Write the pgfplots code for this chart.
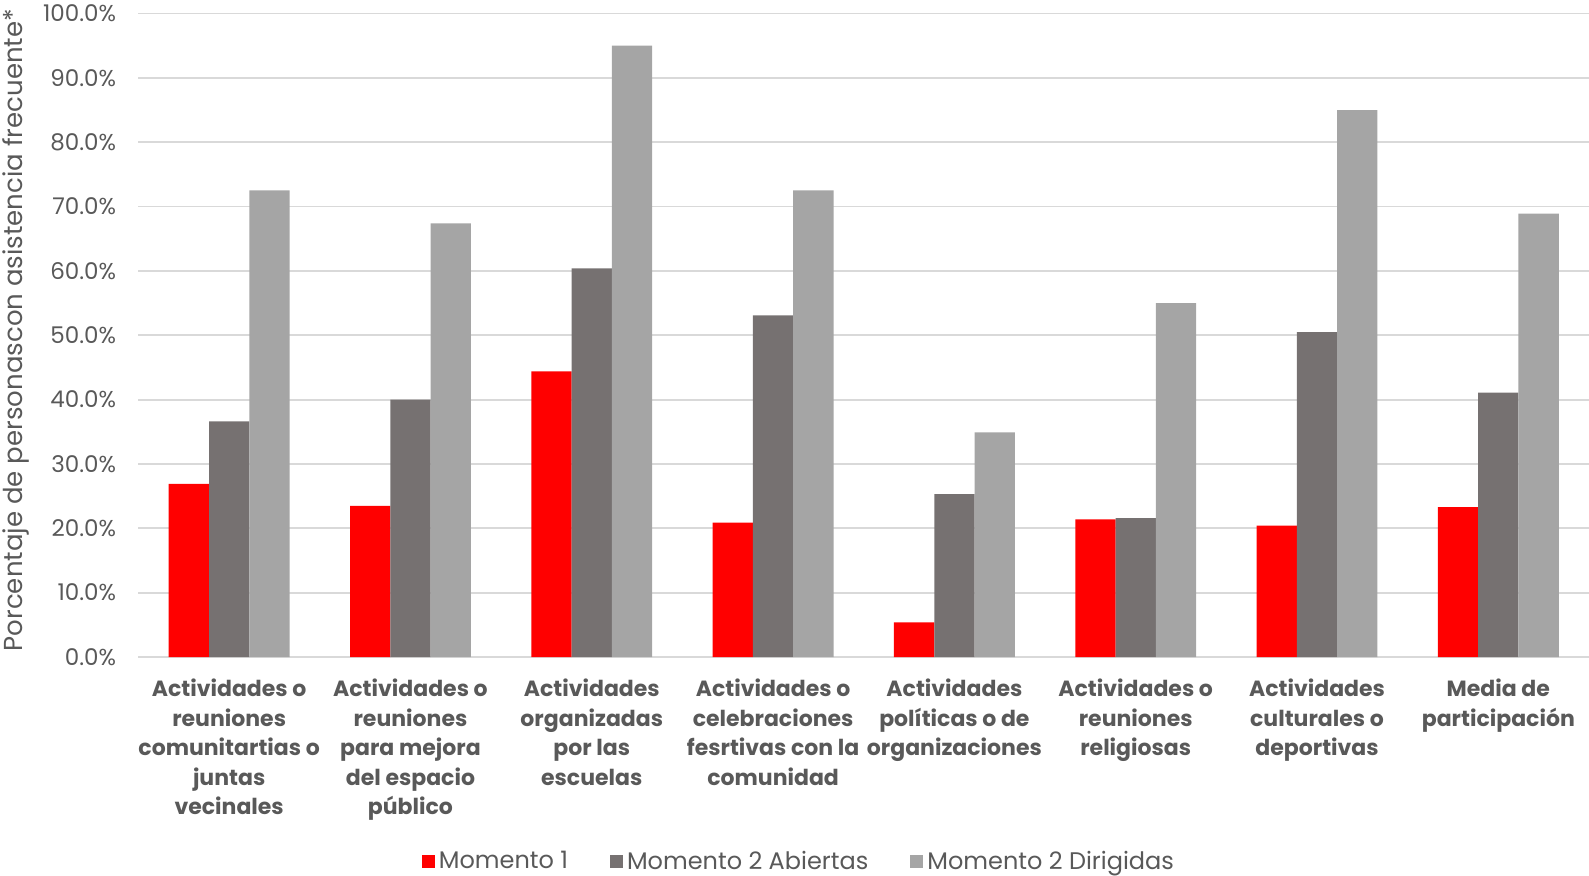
\documentclass[border=0pt]{standalone}
\usepackage{fontspec}
\setmainfont{Poppins}
\usepackage{pgfplots}
\pgfplotsset{compat=1.18}
\definecolor{mred}{HTML}{FF0000}
\definecolor{mdark}{HTML}{767171}
\definecolor{mlight}{HTML}{A5A5A5}
\definecolor{gridc}{HTML}{D9D9D9}
\definecolor{txt}{HTML}{595959}

\begin{document}
\begin{tikzpicture}
\begin{axis}[
    scale only axis,
    width=725.25pt, height=321.75pt,
    ybar=0pt, bar width=0.2222,
    xmin=-0.5, xmax=7.5, ymin=0, ymax=100,
    axis line style={draw=none},
    xtick={0,...,7},
    xticklabels={
      {Actividades o\\reuniones\\comunitartias o\\juntas\\vecinales},
      {Actividades o\\reuniones\\para mejora\\del espacio\\público},
      {Actividades\\organizadas\\por las\\escuelas},
      {Actividades o\\celebraciones\\fesrtivas con la\\comunidad},
      {Actividades\\políticas o de\\organizaciones},
      {Actividades o\\reuniones\\religiosas},
      {Actividades\\culturales o\\deportivas},
      {Media de\\participación}},
    xticklabel style={font=\fontsize{11}{14.75}\selectfont\bfseries, text=txt,
      align=center, anchor=north, inner sep=0pt, yshift=-6.5pt},
    ytick={0,10,...,100},
    yticklabel={\pgfmathprintnumber[fixed,fixed zerofill,precision=1]{\tick}\%},
    yticklabel style={font=\fontsize{11.5}{13}\selectfont, text=txt, inner sep=0pt, xshift=-11pt},
    /pgf/number format/assume math mode=true,
    major tick style={draw=none},
    ymajorgrids, grid style={gridc, line width=0.9pt},
    ylabel={Porcentaje de personascon asistencia frecuente*},
    ylabel style={font=\fontsize{13}{15}\selectfont, text=txt, at={(axis description cs:-0.0845,0.508)}, anchor=center},
    legend columns=-1,
    legend style={draw=none, font=\fontsize{12}{14}\selectfont, text=txt,
      at={(0.456,-0.318)}, anchor=center,
      /tikz/every even column/.append style={column sep=19pt}},
    legend image code/.code={\fill[#1] (0pt,-3.25pt) rectangle (6.5pt,3.25pt);},
  ]

\addplot[fill=mred, draw=none] coordinates {
    (0,26.9) (1,23.5) (2,44.4) (3,20.9) (4,5.4) (5,21.4) (6,20.4) (7,23.3)
  };
\addplot[fill=mdark, draw=none] coordinates {
    (0,36.6) (1,40.0) (2,60.4) (3,53.1) (4,25.3) (5,21.6) (6,50.5) (7,41.1)
  };
\addplot[fill=mlight, draw=none] coordinates {
    (0,72.5) (1,67.4) (2,95.0) (3,72.5) (4,34.9) (5,55.0) (6,85.0) (7,68.9)
  };

\legend{Momento 1, Momento 2 Abiertas, Momento 2 Dirigidas}

\coordinate (sw) at (rel axis cs:0,0);
\coordinate (ne) at (rel axis cs:1,1);
\end{axis}
\pgfresetboundingbox
\path[use as bounding box] ([xshift=-69.25pt,yshift=-109pt]sw) rectangle ([yshift=6.75pt]ne);
\end{tikzpicture}
\end{document}
